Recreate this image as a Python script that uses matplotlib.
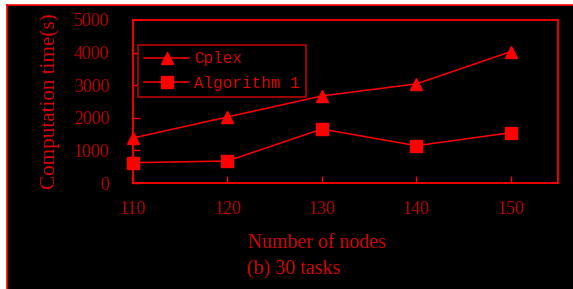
import matplotlib
matplotlib.use("Agg")
import matplotlib.pyplot as plt
from matplotlib.patches import Rectangle
from matplotlib.lines import Line2D

plt.rcParams["font.family"] = ["Liberation Serif", "DejaVu Serif"]

nodes = [110, 120, 130, 140, 150]
cplex = [1380, 2025, 2670, 3040, 4030]
algo1 = [623, 675, 1656, 1144, 1543]
yticks = [0, 1000, 2000, 3000, 4000, 5000]

RED = "#ff0000"
DARKRED = "#b80000"
LABRED = "#dd0000"

fig = plt.figure(figsize=(5.73, 2.89), dpi=100, facecolor="white")
# black panel with red left/top edge
fig.patches.append(Rectangle((7/573, 0), 1, 1 - 5/289, transform=fig.transFigure,
                             facecolor="black", edgecolor="none", zorder=-5))
fig.add_artist(Line2D([7/573, 7/573], [0, 1 - 5/289], transform=fig.transFigure, color=RED, lw=1.2, zorder=-4))
fig.add_artist(Line2D([7/573, 1], [1 - 5/289, 1 - 5/289], transform=fig.transFigure, color=RED, lw=1.2, zorder=-4))

ax = fig.add_axes([133/573, 1 - 183/289, (558 - 133)/573, (183 - 20)/289])
ax.set_zorder(5)
ax.set_facecolor("black")
ax.plot(nodes, cplex, color=RED, lw=1.1, marker="^", markersize=9, label="Cplex", clip_on=False)
ax.plot(nodes, algo1, color=RED, lw=1.1, marker="s", markersize=8, label="Algorithm 1", clip_on=False)
ax.set_xlim(110, 155)
ax.set_ylim(0, 5000)
ax.set_xticks(nodes)
ax.set_yticks(yticks)
for s in ax.spines.values():
    s.set_color(RED)
    s.set_linewidth(1.3)
ax.tick_params(direction="in", color=RED, labelcolor=DARKRED, length=5, width=1, labelsize=13)
ax.tick_params(axis="x", pad=13)
ax.tick_params(axis="y", pad=17)
ax.set_ylabel("Computation time(s)", fontsize=15.2, color=LABRED, labelpad=10)
fig.text(317/573, 1 - 243/289, "Number of nodes", fontsize=14.3,
         color=LABRED, ha="center", va="center", zorder=6)
fig.text(294/573, 1 - 270/289, "(b) 30 tasks", fontsize=14.5,
         color=LABRED, ha="center", va="center", zorder=6)

leg = ax.legend(loc="upper left", bbox_to_anchor=(5/425, 1 - 25/163), fancybox=False,
                facecolor="black", edgecolor=DARKRED, framealpha=1,
                prop={"family": "Liberation Mono", "size": 11.5}, handlelength=2.8,
                borderpad=0.4, labelspacing=0.6, handletextpad=0.3, borderaxespad=0)
leg.get_frame().set_linewidth(1.2)
for t in leg.get_texts():
    t.set_color(LABRED)

fig.savefig("out.png", dpi=100, facecolor="white")
